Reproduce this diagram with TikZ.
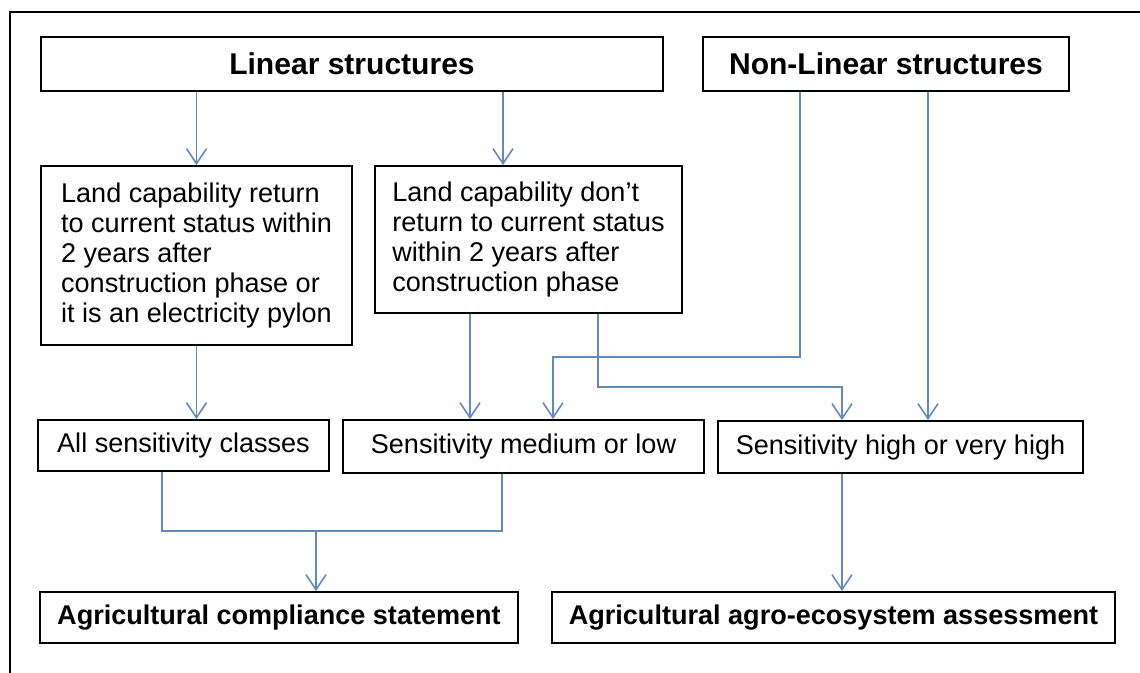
\documentclass[tikz,border=0pt]{standalone}
\usepackage{fontspec}
\setmainfont{Liberation Sans}
\usetikzlibrary{arrows.meta}
\definecolor{flowblue}{RGB}{98,136,188}
\tikzset{
	box/.style = {
		rectangle,
		draw=black,
		line width=1.1pt,
		inner sep=0pt,
		align=left,
		font=\fontsize{15.4pt}{17.2pt}\selectfont
	},
	box_title/.style = {
		box,
		align=center,
		font=\fontsize{17.1pt}{20pt}\selectfont\bfseries,
		minimum height=1.08cm
	},
	box_bold/.style = {
		box,
		align=center,
		font=\fontsize{15.4pt}{18pt}\selectfont\bfseries,
		minimum height=1.02cm
	},
	box_sens/.style = {
		box,
		align=center
	},
	flow/.style = {
		draw=flowblue,
		line width=0.9pt,
		->
	},
	link/.style = {
		draw=flowblue,
		line width=0.9pt
	},
	frame/.style = {
		draw=black,
		line width=1.2pt
	}
}
\begin{document}
\begin{tikzpicture}[x=0.02cm, y=-0.02cm, >={Straight Barb[length=0.3cm, width=0.4cm]}]
\useasboundingbox (0,0) rectangle (1140,673);
\draw [frame] (10,673) -- (10,12) -- (1140,12);

% top row
\node [box_title, minimum width=12.44cm] (lin) at (352,64) {Linear structures};
\node [box_title, minimum width=7.32cm] (nonlin) at (886,64) {Non-Linear structures};

% land capability
\node [box, minimum width=6.22cm, minimum height=3.58cm] (ret) at (196.5,255.5)
	{Land capability return\\to current status within\\2 years after\\construction phase or\\it is an electricity pylon};
\node [box, minimum width=6.14cm, minimum height=2.94cm] (noret) at (528.5,239.5)
	{Land capability don’t\\return to current status\\within 2 years after\\construction phase};

% sensitivity
\node [box_sens, minimum width=5.82cm, minimum height=1.02cm] (allcls) at (183.5,445.5) {All sensitivity classes};
\node [box_sens, minimum width=7.22cm, minimum height=1.06cm] (medlow) at (523.5,446.5) {Sensitivity medium or low};
\node [box_sens, minimum width=7.3cm, minimum height=1.04cm] (high) at (900.5,447) {Sensitivity high or very high};

% outcomes
\node [box_bold, minimum width=9.56cm] (compl) at (279,617.5) {Agricultural compliance statement};
\node [box_bold, minimum width=11.26cm] (agro) at (833.5,617.5) {Agricultural agro-ecosystem assessment};

% bends
\coordinate (kB) at (503,0);
\coordinate (kC) at (470,0);
\coordinate (kD) at (598,387);
\coordinate (kE) at (842,387);
\coordinate (kF) at (800,357);
\coordinate (kG) at (553,357);
\coordinate (kH) at (928,0);
\coordinate (kI) at (162,531);
\coordinate (kJ) at (316,531);
\coordinate (kK) at (502,531);

\draw [flow] (lin.south -| ret.north) -- (ret.north);
\draw [flow] (lin.south -| kB) -- (noret.north -| kB);
\draw [flow] (ret.south) -- (allcls.north -| ret.south);
\draw [flow] (noret.south -| kC) -- (medlow.north -| kC);
\draw [flow] (noret.south -| kD) -- (kD) -- (kE) -- (high.north -| kE);
\draw [flow] (nonlin.south -| kF) -- (kF) -- (kG) -- (medlow.north -| kG);
\draw [flow] (nonlin.south -| kH) -- (high.north -| kH);
\draw [link] (allcls.south -| kI) -- (kI) -- (kK) -- (medlow.south -| kK);
\draw [flow] (kJ) -- (compl.north -| kJ);
\draw [flow] (high.south -| kE) -- (agro.north -| kE);
\end{tikzpicture}
\end{document}
